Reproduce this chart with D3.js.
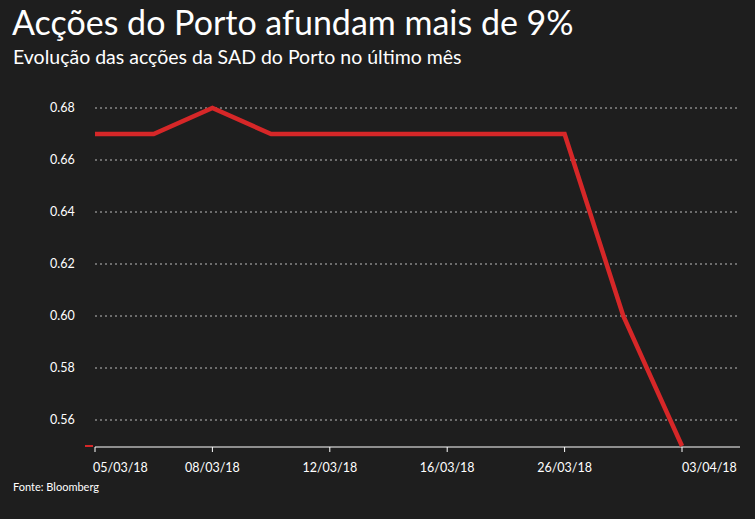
<!DOCTYPE html>
<html><head><meta charset="utf-8">
<script src="https://cdn.jsdelivr.net/npm/d3@7"></script>
<style>
body{margin:0;background:#1e1e1e;}
text{font-family:Lato,"Open Sans",sans-serif;}
</style></head>
<body><svg id="c" width="755" height="519"></svg>
<script>
const dates = ['05/03/18','07/03/18','08/03/18','09/03/18','12/03/18','14/03/18','16/03/18','21/03/18','26/03/18','29/03/18','03/04/18'];
const prices = [0.67,0.67,0.68,0.67,0.67,0.67,0.67,0.67,0.67,0.60,0.55];
const labelled = ['05/03/18','08/03/18','12/03/18','16/03/18','26/03/18','03/04/18'];
const yTicks = [0.56,0.58,0.60,0.62,0.64,0.66,0.68];

const svg = d3.select('#c');
svg.append('rect').attr('width',755).attr('height',519).attr('fill','#1e1e1e');
svg.append('text').attr('x',12).attr('y',35).attr('fill','#fff').attr('font-size',34)
  .text('Acções do Porto afundam mais de 9%');
svg.append('text').attr('x',13).attr('y',64).attr('fill','#fff').attr('font-size',19.5)
  .text('Evolução das acções da SAD do Porto no último mês');
svg.append('text').attr('x',13).attr('y',491).attr('fill','#fff').attr('font-size',11)
  .text('Fonte: Bloomberg');

const x = d3.scalePoint().domain(dates).range([95,682]);
const y = d3.scaleLinear().domain([0.55,0.68]).range([446,108]);

const g = svg.append('g');
yTicks.forEach(t => {
  g.append('line').attr('x1',95).attr('x2',740).attr('y1',y(t)).attr('y2',y(t))
    .attr('stroke','#bbb').attr('stroke-dasharray','2,3').attr('stroke-width',1);
  g.append('text').attr('x',50).attr('y',y(t)+4).attr('fill','#fff').attr('font-size',12.5)
    .text(t.toFixed(2));
});
g.append('line').attr('x1',85).attr('x2',93).attr('y1',y(0.55)).attr('y2',y(0.55))
  .attr('stroke','#d62728').attr('stroke-width',2);
g.append('line').attr('x1',95).attr('x2',740).attr('y1',447).attr('y2',447)
  .attr('stroke','#fff').attr('stroke-width',1);

labelled.forEach((d,i) => {
  const px = x(d);
  g.append('line').attr('x1',px).attr('x2',px).attr('y1',447).attr('y2',452).attr('stroke','#fff');
  const anchor = (i === 0 || i === labelled.length-1) ? 'start' : 'middle';
  g.append('text').attr('x', i === 0 ? px-2 : px).attr('y',472).attr('fill','#fff')
    .attr('font-size',12.5).attr('text-anchor',anchor).text(d);
});

g.append('path').datum(prices)
  .attr('d', d3.line().x((d,i) => x(dates[i])).y(d => y(d)))
  .attr('fill','none').attr('stroke','#d62728').attr('stroke-width',4.5)
  .attr('stroke-linejoin','miter');
</script></body></html>
